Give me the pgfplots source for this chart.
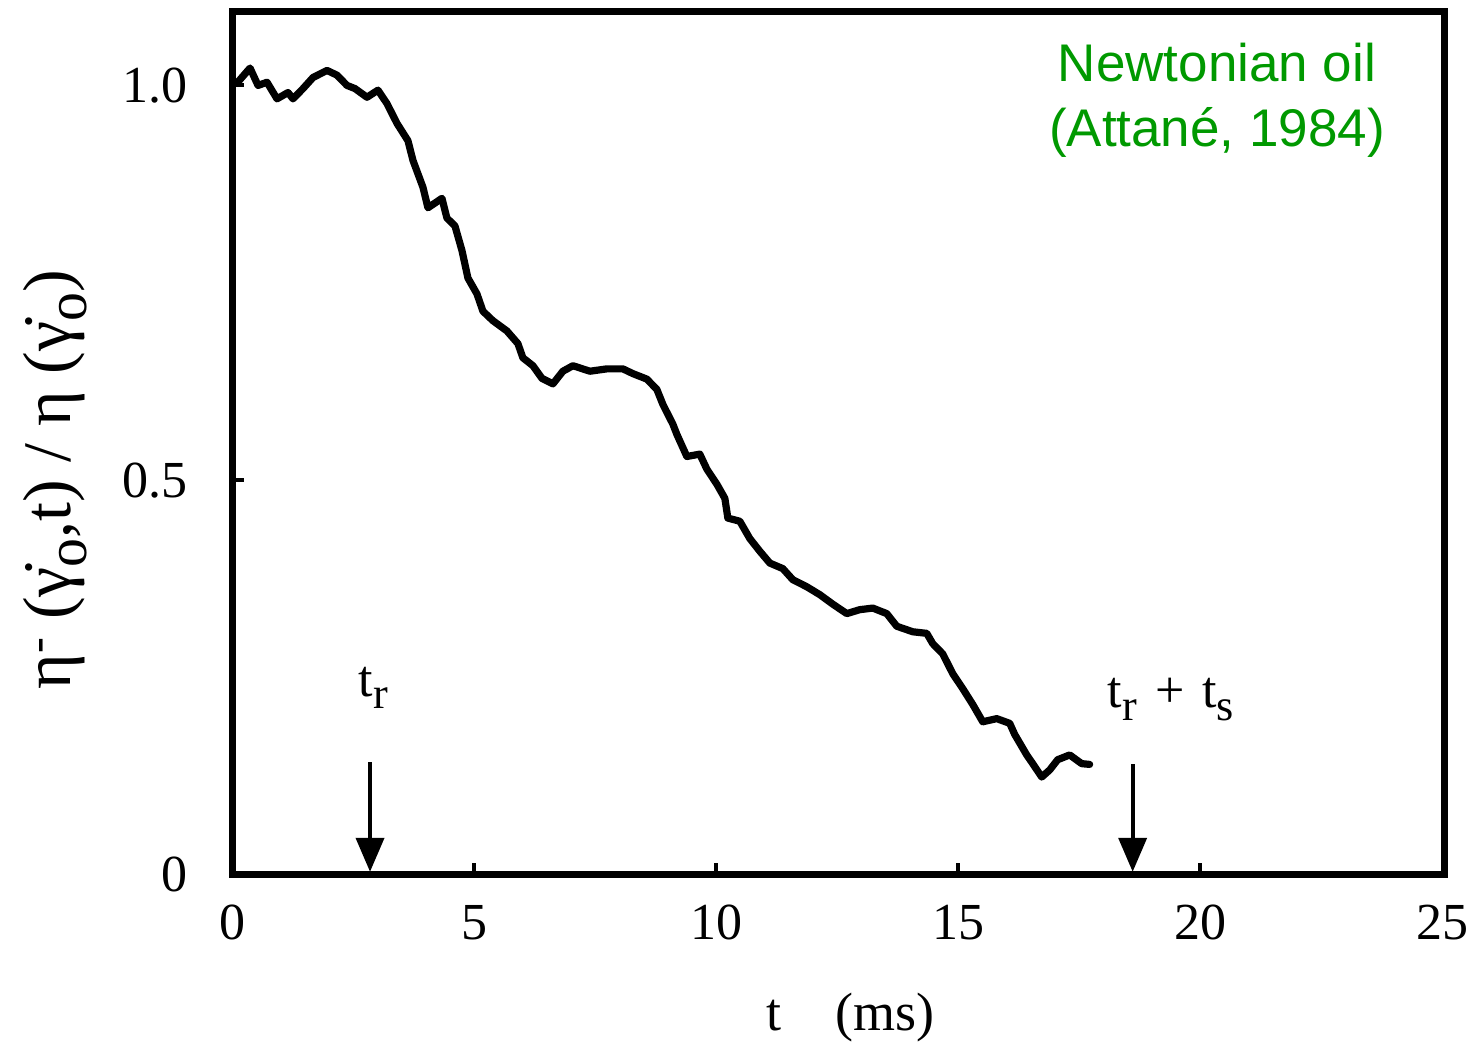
\documentclass[border=0pt]{standalone}
\usepackage{pgfplots}
\pgfplotsset{compat=1.18}
\usepackage{fontspec}
\setmainfont{Liberation Serif}
\newfontfamily\arialfont{Liberation Sans}
\usetikzlibrary{arrows.meta}
\definecolor{labelgreen}{RGB}{0,153,0}
% large, lowered subscripts
\newcommand\sub[1]{\raisebox{-0.24em}{\scalebox{0.85}{#1}}}

% transient viscosity ratio after shear start-up
\pgfplotstableread{
t ratio
0.103 1.003
0.372 1.022
0.537 1.000
0.723 1.004
0.929 0.983
1.156 0.991
1.259 0.983
1.466 0.996
1.672 1.010
1.961 1.019
2.168 1.013
2.374 1.000
2.539 0.996
2.787 0.985
3.014 0.994
3.200 0.977
3.406 0.952
3.633 0.930
3.737 0.905
3.943 0.871
4.046 0.845
4.335 0.857
4.438 0.832
4.604 0.822
4.748 0.791
4.872 0.756
5.058 0.736
5.182 0.714
5.388 0.702
5.677 0.689
5.904 0.673
6.007 0.655
6.214 0.645
6.400 0.629
6.627 0.622
6.833 0.638
7.040 0.645
7.391 0.638
7.742 0.641
8.072 0.641
8.278 0.635
8.567 0.628
8.774 0.615
8.898 0.596
9.104 0.571
9.187 0.558
9.393 0.530
9.661 0.533
9.806 0.514
10.012 0.495
10.178 0.477
10.240 0.452
10.487 0.448
10.694 0.426
10.900 0.410
11.107 0.395
11.375 0.388
11.581 0.374
11.870 0.365
12.139 0.355
12.407 0.343
12.696 0.331
12.964 0.336
13.233 0.338
13.522 0.331
13.728 0.315
14.059 0.308
14.348 0.306
14.471 0.293
14.678 0.280
14.884 0.255
15.091 0.236
15.297 0.216
15.504 0.194
15.793 0.198
16.061 0.192
16.164 0.178
16.412 0.152
16.536 0.141
16.722 0.124
16.887 0.133
17.052 0.146
17.300 0.152
17.547 0.141
17.712 0.140
}\viscdata

\begin{document}
\begin{tikzpicture}[font=\fontsize{26}{31}\selectfont]
\begin{axis}[
  scale only axis,
  width=606.5pt, height=431.5pt,
  xmin=0, xmax=25.05, ymin=0, ymax=1.093,
  clip=false,
  axis line style={line width=3.5pt},
  xtick={0,5,10,15,20,25},
  ytick={0,0.5,1.0},
  yticklabels={0,0.5,1.0},
  xticklabels={0,5,10,15,20,25},
  xtick pos=bottom, ytick pos=left,
  tick align=inside,
  major tick length=6pt,
  tick style={line width=2pt, black},
  yticklabel style={font=\fontsize{26}{31}\selectfont, anchor=east, inner sep=0pt, xshift=-22pt},
  xticklabel style={font=\fontsize{26}{31}\selectfont, anchor=north, inner sep=0pt, yshift=-15pt},
  xlabel={t\hspace{1em}(ms)},
  xlabel style={font=\fontsize{27}{32}\selectfont, at={(axis description cs:0.51,-0.165)}, anchor=center},
  ylabel={η\textsuperscript{-} (γ̇\sub{o},t) / η (γ̇\sub{o})},
  ylabel style={font=\fontsize{34}{40}\selectfont, at={(axis description cs:-0.146,0.458)}, anchor=center},
]
\addplot[black, line width=3.6pt, line join=round, line cap=round] table[x=t, y=ratio] {\viscdata};

% time markers
\draw[line width=2pt, -{Triangle[width=14pt,length=17pt]}] (axis cs:2.85,0.143) -- (axis cs:2.85,0.004);
\draw[line width=2pt, -{Triangle[width=14pt,length=17pt]}] (axis cs:18.60,0.140) -- (axis cs:18.60,0.004);
\node[anchor=base, inner sep=0pt] at (axis cs:2.92,0.226) {t\sub{r}};
\node[anchor=base, inner sep=0pt] at (axis cs:19.39,0.212) {t\sub{r}\hspace{0.35em}+\hspace{0.35em}t\sub{s}};

% sample annotation
\node[anchor=base, inner sep=0pt, text=labelgreen, font=\arialfont\fontsize{26.5}{31}\selectfont] at (axis description cs:0.812,0.919) {Newtonian oil};
\node[anchor=base, inner sep=0pt, text=labelgreen, font=\arialfont\fontsize{26.5}{31}\selectfont] at (axis description cs:0.812,0.8436) {(Attané, 1984)};

% page extent
\path (axis description cs:-0.1913,-0.1958) (axis description cs:1.0223,1.0139);
\end{axis}
\end{tikzpicture}
\end{document}
